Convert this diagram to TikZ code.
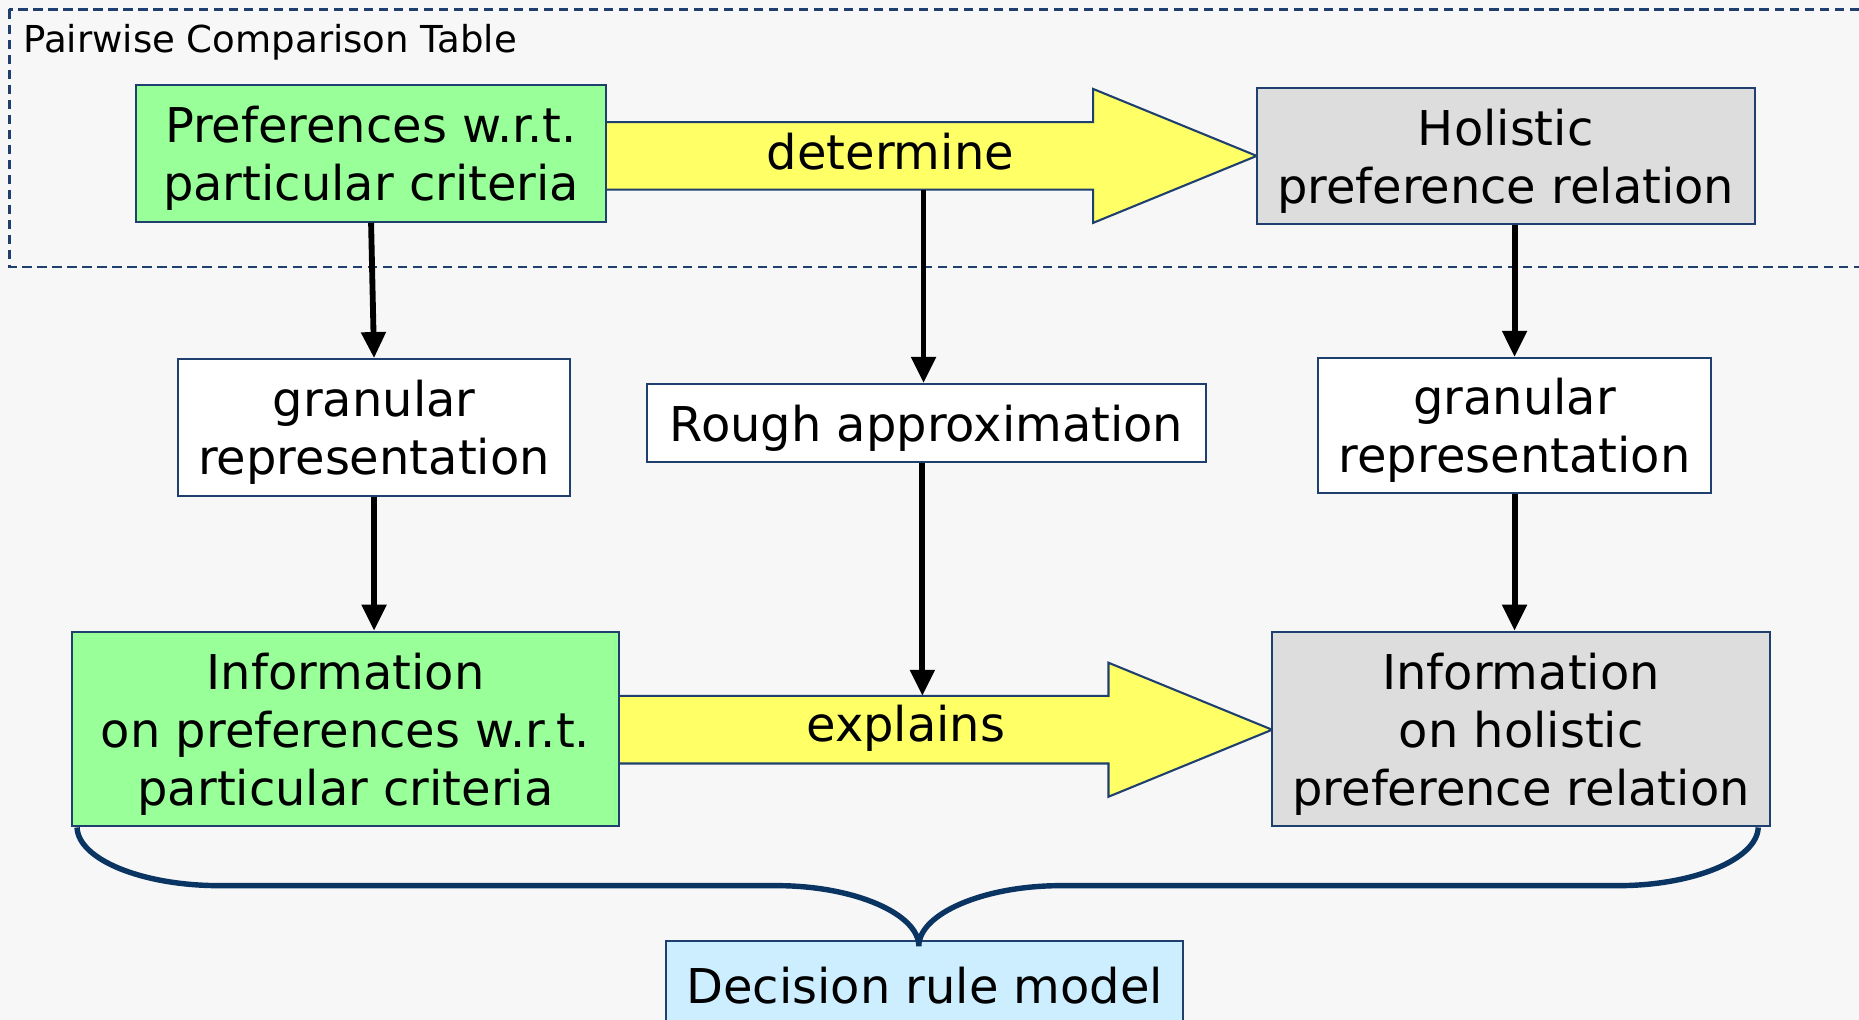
\documentclass[tikz,border=0pt]{standalone}
\usepackage{fontspec}
\setmainfont{DejaVu Sans}
\usepackage{xcolor}
\usetikzlibrary{positioning, calc, arrows.meta}

\definecolor{bgGray}{HTML}{F7F7F7}
\definecolor{frameBlue}{HTML}{1F3F6F}
\definecolor{braceBlue}{HTML}{0A3461}
\definecolor{critGreen}{HTML}{99FF99}
\definecolor{relGray}{HTML}{DDDDDD}
\definecolor{arrowYellow}{HTML}{FFFF66}
\definecolor{modelBlue}{HTML}{CCEEFF}

\newcommand{\boxfont}{\fontsize{11.5pt}{13.9pt}\selectfont}

\begin{document}
\begin{tikzpicture}[x=0.01cm, y=-0.01cm,
    box/.style={draw=frameBlue, line width=0.5pt, align=center, inner sep=0pt, text depth=0pt, font=\boxfont},
    flow/.style={-{Triangle[length=0.22cm, width=0.2cm]}, line width=1.4pt, black},
    bigarrow/.style={draw=frameBlue, line width=0.5pt, fill=arrowYellow}]
    \useasboundingbox (0,0) rectangle (1568,860);
    \clip (0,0) rectangle (1568,860);
    \fill[bgGray] (0,0) rectangle (1568,860);

    % Pairwise comparison table frame
    \draw[frameBlue, line width=0.5pt, dash pattern=on 2.2pt off 1.4pt] (8,8) rectangle (1590,225);
    \node[anchor=west, inner sep=0pt, font=\fontsize{8.9pt}{10.7pt}\selectfont] (title) at (19,36) {Pairwise Comparison Table};

    % Block arrows
    \draw[bigarrow] (511,103) -- (922,103) -- (922,75) -- (1060,131.5) -- (922,188) -- (922,160) -- (511,160) -- cycle;
    \node[font=\boxfont] (det) at (751,128) {determine};
    \draw[bigarrow] (522,587) -- (935,587) -- (935,559) -- (1073,615.5) -- (935,672) -- (935,644) -- (522,644) -- cycle;
    \node[font=\boxfont] (expl) at (764,614) {explains};
    \coordinate (detFoot) at (779,160);
    \coordinate (explTop) at (778,587);

    % Top row
    \node[box, fill=critGreen, minimum width=3.96cm, minimum height=1.15cm] (pref) at (313,129.5) {Preferences w.r.t.\\particular criteria};
    \node[box, fill=relGray, minimum width=4.2cm, minimum height=1.15cm] (hol) at (1270,131.5) {Holistic\\preference relation};

    % Middle row
    \node[box, fill=white, minimum width=3.31cm, minimum height=1.15cm] (granL) at (315.5,360.5) {granular\\representation};
    \node[box, fill=white, minimum width=4.71cm, minimum height=0.66cm] (rough) at (781.5,357) {Rough approximation};
    \node[box, fill=white, minimum width=3.31cm, minimum height=1.14cm] (granR) at (1277.5,359) {granular\\representation};

    % Bottom row
    \node[box, fill=critGreen, minimum width=4.61cm, minimum height=1.64cm] (infoL) at (291.5,615) {Information\\on preferences w.r.t.\\particular criteria};
    \node[box, fill=relGray, minimum width=4.2cm, minimum height=1.64cm] (infoR) at (1283,615) {Information\\on holistic\\preference relation};
    \node[box, fill=modelBlue, text depth=, minimum width=4.36cm, minimum height=0.74cm] (dec) at (780,831) {Decision rule model};

    % Connectors
    \draw[flow] (pref.south) -- (granL.north);
    \draw[flow] (detFoot) -- (detFoot |- rough.north);
    \draw[flow] (granR.north |- hol.south) -- (granR.north);
    \draw[flow] (granL.south) -- (granL.south |- infoL.north);
    \draw[flow] (rough.south -| explTop) -- (explTop);
    \draw[flow] (granR.south) -- (granR.south |- infoR.north);

    % Brace to the model
    \draw[braceBlue, line width=1.3pt] ($(infoL.south west)+(5,0)$) .. controls (66,725) and (120,747) .. (185,747) -- (655,747)
        .. controls (721,747) and (775,771) .. (775,798) .. controls (775,771) and (829,747) .. (895,747) -- (1365,747)
        .. controls (1428,747) and (1482,725) .. ($(infoR.south east)+(-11,0)$);
\end{tikzpicture}
\end{document}
